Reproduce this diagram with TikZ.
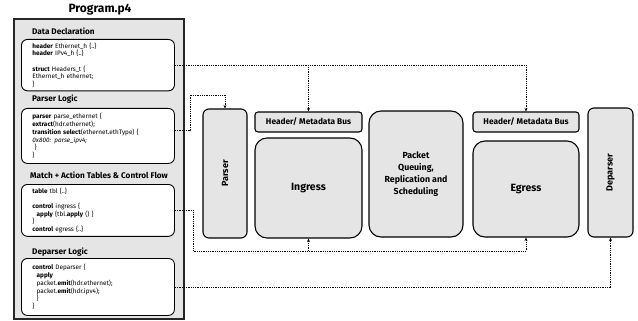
\documentclass[tikz,border=0pt]{standalone}
\usepackage{fontspec}
\usepackage{graphicx}
\setmainfont{Fira Sans}
\usetikzlibrary{positioning,%
  calc,%
  arrows.meta
}

\tikzset{
  panel/.style={draw=black!85,line width=1.4pt,fill=gray!20},
  codebox/.style={draw=black,line width=0.9pt,fill=white,rounded corners=6pt,
    anchor=north west,minimum width=153pt,text width=131pt,inner xsep=11pt,
    align=left,font=\fontsize{6.4}{7.7}\selectfont},
  secttl/.style={anchor=west,inner sep=0pt,font=\bfseries\fontsize{8.2}{9}\selectfont},
  block/.style={draw=black,line width=1.1pt,fill=gray!20,rounded corners=12pt,
    align=center,font=\bfseries\fontsize{8.8}{12}\selectfont},
  bus/.style={block,rounded corners=3pt,minimum width=107pt,minimum height=20pt,
    font=\bfseries\fontsize{8.3}{10}\selectfont},
  side/.style={block,rounded corners=6pt,minimum width=44pt,minimum height=129pt,
    font=\bfseries\fontsize{9}{10}\selectfont},
  link/.style={line width=0.9pt,dash pattern=on 0.9pt off 0.9pt,
    -{Stealth[length=3.5pt,width=3pt]}}
}

\begin{document}
\begin{tikzpicture}[x=1pt,y=-1pt]
  \useasboundingbox (0,0) rectangle (638,321);

  % the P4 program
  \node[font=\bfseries\fontsize{12}{14}\selectfont] (title) at (100,10) {Program.p4};
  \node[panel,minimum width=170pt,minimum height=300pt] (prog) at (99,169) {};

  \node[secttl] (t1) at (32,31) {Data Declaration};
  \node[codebox,minimum height=49pt] (decl) at (21,39)
    {\textbf{header} Ethernet\_h \{..\}\\
     \textbf{header} IPv4\_h \{..\}\\[7.7pt]
     \textbf{struct} Headers\_t \{\\
     Ethernet\_h ethernet;\\
     \}};

  \node[secttl] (t2) at (32,99) {Parser Logic};
  \node[codebox,minimum height=55pt] (parse) at (21,108)
    {\textbf{parser} parse\_ethernet \{\\
     \textbf{extract}(hdr.ethernet);\\
     \textbf{transition select}(ethernet.ethType) \{\\
     \textit{0x800: parse\_ipv4;}\\
     \ \}\\
     \}};

  \node[secttl] (t3) at (30,175) {Match + Action Tables \& Control Flow};
  \node[codebox,minimum height=51pt] (ctrl) at (21,184)
    {\textbf{table} tbl \{..\}\\[7.7pt]
     \textbf{control} ingress \{\\
     \ \ \textbf{apply} \{tbl.\textbf{apply} () \}\\
     \}\\
     \textbf{control} egress \{..\}};

  \node[secttl] (t4) at (32,252) {Deparser Logic};
  \node[codebox,minimum height=57pt] (depar) at (21,258)
    {\textbf{control} Deparser \{\\
     \ \ \textbf{apply}\\
     \ \ packet.\textbf{emit}(hdr.ethernet);\\
     \ \ packet.\textbf{emit}(hdr.ipv4);\\
     \ \ \}\\
     \}};

  % the pipeline
  \node[side] (prs) at (225,173.5) {\rotatebox{90}{Parser}};
  \node[bus] (inbus) at (308.5,122) {Header/ Metadata Bus};
  \node[block,minimum width=107pt,minimum height=100pt,
    font=\bfseries\fontsize{10.5}{12}\selectfont] (ingr) at (308.5,188) {Ingress};
  \node[block,minimum width=94pt,minimum height=126pt] (pq) at (416,174)
    {Packet\\Queuing,\\Replication and\\Scheduling};
  \node[bus,minimum width=106pt] (egbus) at (526,122) {Header/ Metadata Bus};
  \node[block,minimum width=106pt,minimum height=96pt,
    font=\bfseries\fontsize{10.5}{12}\selectfont] (egr) at (526,189) {Egress};
  \node[side,minimum width=45pt] (dep) at (610.5,172.5) {\rotatebox{90}{Deparser}};

  % program parts to pipeline
  \coordinate (pturn) at (190,95);
  \coordinate (cturn) at (193,251);
  \draw[link] (decl.east) -| (egbus.north);
  \draw[link] (decl.east -| inbus.north) -- (inbus.north);
  \draw[link] ([yshift=5pt]parse.east) -| (pturn) -| (prs.north);
  \draw[link] (ctrl.east) -| (cturn) -| (egr.south);
  \draw[link] (cturn -| ingr.south) -- (ingr.south);
  \draw[link] (depar.east) -| (dep.south);
\end{tikzpicture}
\end{document}
